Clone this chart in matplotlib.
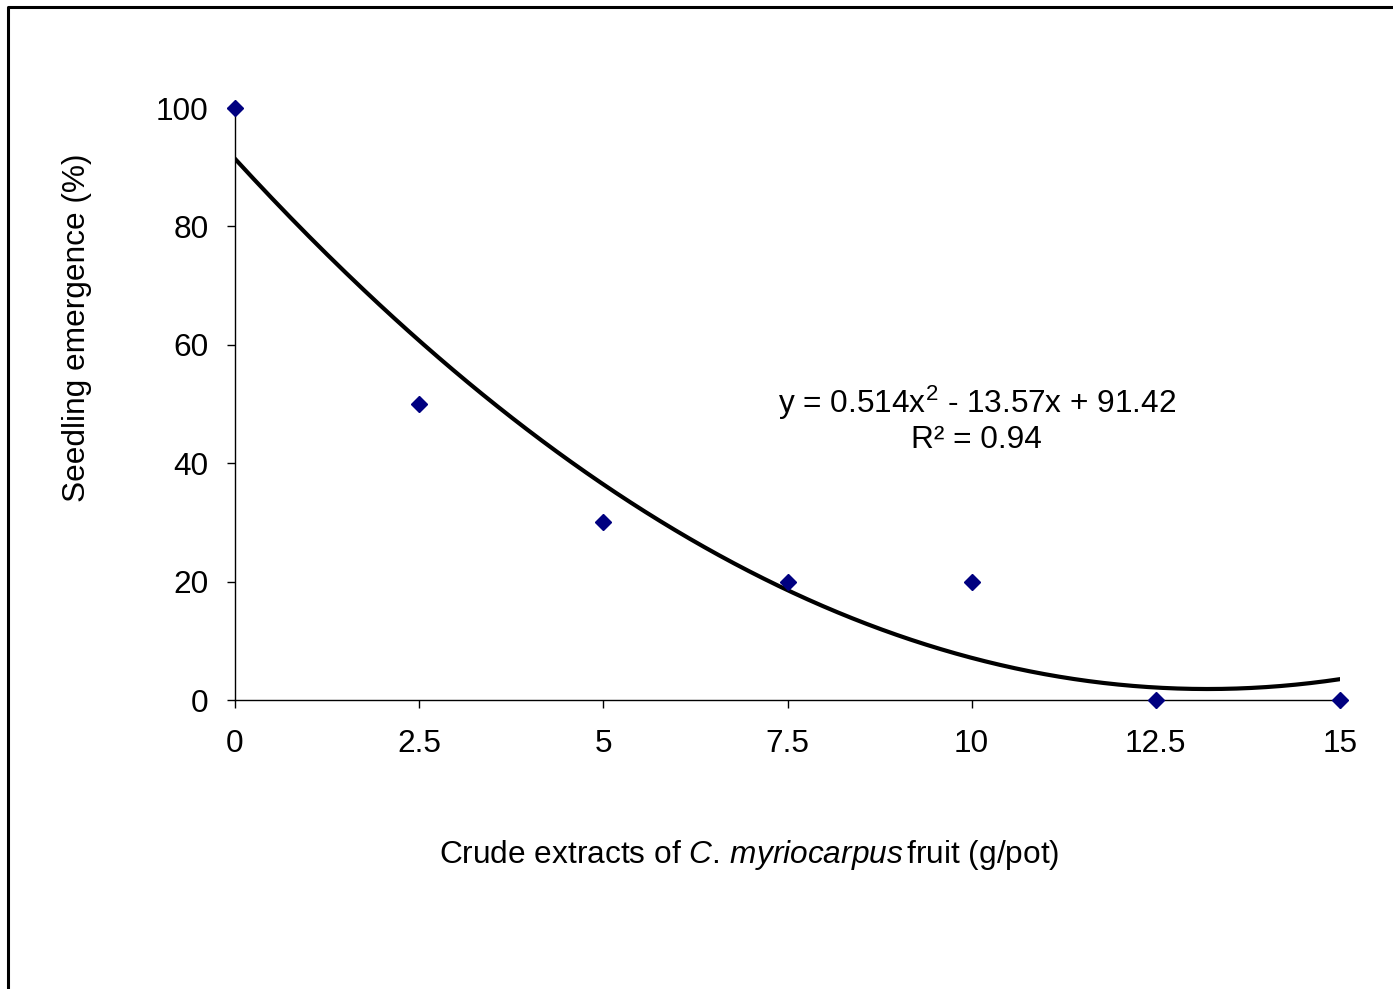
import numpy as np
import matplotlib as mpl

mpl.use('agg')

import matplotlib.pyplot as plt
from matplotlib.lines import Line2D

plt.rcParams['font.family'] = ['Liberation Sans', 'DejaVu Sans']
plt.rcParams['mathtext.fontset'] = 'custom'
plt.rcParams['mathtext.rm'] = 'Liberation Sans'
plt.rcParams['mathtext.it'] = 'Liberation Sans:italic'

## dose (g/pot) and seedling emergence (%)
dose = [0, 2.5, 5, 7.5, 10, 12.5, 15]
emergence = [100, 50, 30, 20, 20, 0, 0]

## quadratic trend line coefficients
coef = [0.514, -13.57, 91.42]
r_squared = 0.94

xticks = [0, 2.5, 5, 7.5, 10, 12.5, 15]
xticklabels = ['0', '2.5', '5', '7.5', '10', '12.5', '15']
yticks = [0, 20, 40, 60, 80, 100]

fs = 22.8

fig = plt.figure(figsize=(13.93, 9.89), dpi=100)
ax = fig.add_axes([235 / 1393, 1 - 700 / 989, 1105 / 1393, 592 / 989])

xs = np.linspace(0, 15, 300)
ax.plot(xs, np.polyval(coef, xs), color='black', linewidth=3.0, zorder=2)
ax.plot(dose, emergence, linestyle='none', marker='D', markersize=8.5,
        color='#000080', clip_on=False, zorder=3)

ax.set_xlim(0, 15)
ax.set_ylim(0, 100)
ax.set_xticks(xticks)
ax.set_xticklabels(xticklabels)
ax.set_yticks(yticks)
ax.tick_params(labelsize=fs, length=6, width=1, pad=15, colors='black')
ax.tick_params(axis='y', pad=13)
for side in ['top', 'right']:
    ax.spines[side].set_visible(False)
for side in ['left', 'bottom']:
    ax.spines[side].set_linewidth(1)

## equation of the fitted curve
eq = 'y = %.3fx$^2$ - %.2fx + %.2f' % (coef[0], -coef[1], coef[2])
ax.text(10.07, 50.2, eq, fontsize=fs, ha='center', va='center')
ax.text(10.07, 43.9, 'R² = %.2f' % r_squared, fontsize=fs, ha='center', va='center')

fig.text(77 / 1393, 1 - 328 / 989, 'Seedling emergence (%)', rotation=90,
         fontsize=fs, ha='center', va='center')
fig.text(749 / 1393, 1 - 855 / 989,
         r'Crude extracts of $\mathit{C.\,myriocarpus}\,$fruit (g/pot)',
         fontsize=fs, ha='center', va='center')

## outer frame (left and top edges)
fig.add_artist(Line2D([8 / 1393, 8 / 1393, 1.0], [0.0, 1 - 7 / 989, 1 - 7 / 989],
                      transform=fig.transFigure, color='black', linewidth=2.2))

fig.savefig('out.png', dpi=100)
